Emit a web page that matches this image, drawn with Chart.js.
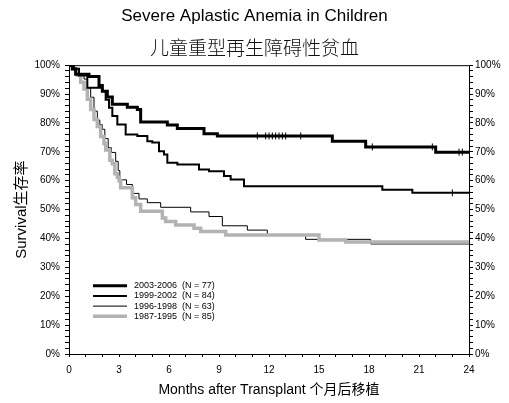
<!DOCTYPE html>
<html>
<head>
<meta charset="utf-8">
<script src="https://cdn.jsdelivr.net/npm/chart.js@4/dist/chart.umd.min.js"></script>
<style>
  html, body { margin: 0; padding: 0; background: #fff; }
  #wrap { width: 509px; height: 403px; position: relative; }
</style>
</head>
<body>
<div id="wrap"><canvas id="survChart"></canvas></div>
<script>
// Kaplan-Meier survival (months after transplant, survival %)
const seriesLabels = ['2003-2006  (N = 77)', '1999-2002  (N = 84)', '1996-1998  (N = 63)', '1987-1995  (N = 85)'];

const months2003 = [0, 0.2, 0.4, 1.2, 1.8, 2.0, 2.3, 2.6, 3.5, 4.1, 4.3, 5.9, 6.5, 8.1, 8.9, 15.8, 17.8, 22.0, 24];
const surv2003 = [100, 98.7, 96.9, 96.1, 93.0, 91.0, 89.0, 86.5, 85.4, 84.7, 80.3, 79.3, 78.1, 76.3, 75.5, 73.7, 71.7, 69.9, 69.9];

const months1999 = [0, 0.3, 0.6, 1.1, 2.0, 2.2, 2.4, 2.6, 2.9, 3.4, 4.1, 4.7, 5.0, 5.4, 5.7, 5.9, 6.5, 7.8, 8.4, 9.3, 9.7, 10.5, 18.8, 20.6, 24];
const surv1999 = [100, 98.8, 96.4, 92.2, 91.1, 88.0, 85.3, 82.4, 79.5, 76.0, 75.5, 73.7, 73.2, 70.2, 69.1, 66.2, 65.6, 63.9, 63.3, 61.6, 60.4, 58.1, 56.9, 55.8, 55.8];

const months1996 = [0, 0.3, 0.6, 0.9, 1.1, 1.3, 1.5, 1.7, 1.85, 2.0, 2.15, 2.35, 2.55, 2.8, 2.95, 3.05, 3.45, 3.8, 4.2, 4.7, 5.5, 7.3, 8.4, 9.2, 10.7, 11.9, 14.2, 18.1, 24];
const surv1996 = [100, 98.4, 96.8, 95.2, 92.1, 88.9, 84.1, 81.0, 79.4, 77.8, 74.6, 71.4, 69.8, 66.7, 63.5, 60.3, 58.7, 55.6, 53.7, 52.4, 50.8, 49.2, 47.6, 44.4, 42.9, 41.3, 39.7, 38.1, 38.1];

const months1987 = [0, 0.2, 0.4, 0.5, 0.7, 0.9, 1.1, 1.3, 1.5, 1.7, 1.9, 2.1, 2.2, 2.45, 2.6, 2.75, 2.9, 3.0, 3.1, 3.8, 4.0, 4.3, 5.6, 5.8, 6.4, 7.5, 7.9, 9.4, 15.0, 16.6, 24];
const surv1987 = [100, 98.8, 97.6, 96.5, 94.1, 91.8, 88.2, 84.7, 81.2, 78.8, 75.3, 72.9, 70.6, 67.1, 65.9, 62.4, 61.2, 60.0, 57.6, 54.1, 51.8, 49.4, 47.1, 45.9, 44.7, 43.5, 42.4, 41.2, 39.5, 38.8, 38.8];

// censored observations (tick marks)
const censor2003Months = [11.3, 11.8, 12.0, 12.2, 12.4, 12.6, 12.8, 13.0, 13.9, 18.2, 21.8, 23.4, 23.6];
const censor2003Surv = [75.5, 75.5, 75.5, 75.5, 75.5, 75.5, 75.5, 75.5, 75.5, 71.7, 71.7, 69.9, 69.9];
const censor1999Months = [23.0];
const censor1999Surv = [55.8];

const FONT = '"Liberation Sans", Arial, "Noto Sans CJK SC", sans-serif';

function pts(xs, ys) {
  return xs.map((x, i) => ({ x: x, y: ys[i] }));
}

function curve(label, xs, ys, color, width, order) {
  return {
    label: label,
    data: pts(xs, ys),
    borderColor: color,
    backgroundColor: color,
    borderWidth: width,
    stepped: true,
    pointRadius: 0,
    fill: false,
    order: order
  };
}

function censor(xs, ys) {
  return {
    type: 'scatter',
    label: 'censored',
    data: pts(xs, ys),
    showLine: false,
    pointStyle: 'line',
    rotation: 90,
    pointRadius: 3.5,
    borderColor: '#000',
    borderWidth: 1,
    order: -1
  };
}

// legend drawn inside the plot, plus top frame line
const extras = {
  id: 'extras',
  afterDatasetsDraw(chart) {
    const ctx = chart.ctx;
    const a = chart.chartArea;
    ctx.save();
    ctx.strokeStyle = '#000';
    ctx.lineWidth = 1;
    ctx.beginPath();
    ctx.moveTo(a.left, a.top + 0.5);
    ctx.lineTo(a.right, a.top + 0.5);
    ctx.stroke();

    ctx.font = '9px ' + FONT;
    ctx.textBaseline = 'middle';
    ctx.fillStyle = '#000';
    seriesLabels.forEach(function (lab, i) {
      const ds = chart.data.datasets[i];
      const y = a.top + 220.5 + i * 10.2;
      ctx.strokeStyle = ds.borderColor;
      ctx.lineWidth = ds.borderWidth;
      ctx.beginPath();
      ctx.moveTo(a.left + 24, y);
      ctx.lineTo(a.left + 58, y);
      ctx.stroke();
      ctx.fillText(lab, a.left + 65, y);
    });
    ctx.restore();
  }
};

function pctLabel(v) { return v % 10 === 0 ? v + '%' : ''; }

new Chart(document.getElementById('survChart'), {
  type: 'line',
  data: {
    datasets: [
      curve(seriesLabels[0], months2003, surv2003, '#000', 3, 0),
      curve(seriesLabels[1], months1999, surv1999, '#000', 2, 1),
      curve(seriesLabels[2], months1996, surv1996, '#000', 1, 3),
      curve(seriesLabels[3], months1987, surv1987, '#b3b3b3', 3.5, 2),
      censor(censor2003Months, censor2003Surv),
      censor(censor1999Months, censor1999Surv)
    ]
  },
  options: {
    responsive: true,
    maintainAspectRatio: false,
    animation: false,
    layout: { padding: 0 },
    plugins: {
      legend: { display: false },
      tooltip: { enabled: false },
      title: {
        display: true,
        text: 'Severe Aplastic Anemia in Children',
        color: '#000',
        font: { size: 17, weight: 'normal', family: FONT },
        padding: { top: 6, bottom: 0 }
      },
      subtitle: {
        display: true,
        text: '儿童重型再生障碍性贫血',
        color: '#111',
        font: { size: 19, weight: 300, family: FONT },
        padding: { top: 12, bottom: 4 }
      }
    },
    scales: {
      x: {
        type: 'linear',
        position: 'bottom',
        min: 0,
        max: 24,
        afterFit: function (s) { s.height = 49; },
        ticks: {
          stepSize: 1,
          autoSkip: false,
          maxRotation: 0,
          color: '#000',
          font: { size: 10, family: FONT },
          padding: 7,
          callback: function (v) { return v % 3 === 0 ? v : ''; }
        },
        grid: { drawOnChartArea: false, tickLength: 3, color: '#000' },
        border: { color: '#000', width: 1 },
        title: {
          display: true,
          text: 'Months after Transplant 个月后移植',
          color: '#000',
          font: { size: 14, family: FONT },
          padding: { top: 0, bottom: 4 }
        }
      },
      y: {
        type: 'linear',
        position: 'left',
        min: 0,
        max: 100,
        afterFit: function (s) { s.width = 69; },
        ticks: {
          stepSize: 2,
          autoSkip: false,
          color: '#000',
          font: { size: 10, family: FONT },
          padding: 5,
          callback: pctLabel
        },
        grid: { drawOnChartArea: false, tickLength: 4, color: '#000' },
        border: { color: '#000', width: 1 },
        title: {
          display: true,
          text: 'Survival生存率',
          color: '#000',
          font: { size: 15, family: FONT },
          padding: { top: 13, bottom: 0 }
        }
      },
      y2: {
        type: 'linear',
        position: 'right',
        min: 0,
        max: 100,
        afterFit: function (s) { s.width = 40; },
        ticks: {
          stepSize: 2,
          autoSkip: false,
          color: '#000',
          font: { size: 10, family: FONT },
          padding: 2,
          callback: pctLabel
        },
        grid: { drawOnChartArea: false, tickLength: 4, color: '#000' },
        border: { color: '#000', width: 1 }
      }
    }
  },
  plugins: [extras]
});
</script>
</body>
</html>
